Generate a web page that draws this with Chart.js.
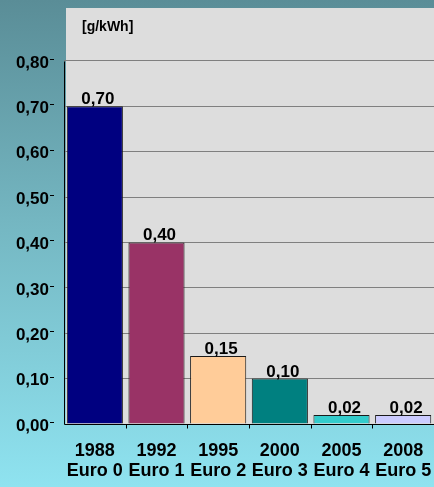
<!DOCTYPE html>
<html>
<head>
<meta charset="utf-8">
<script src="https://cdn.jsdelivr.net/npm/chart.js@4.4.1/dist/chart.umd.min.js"></script>
<style>
  html, body { margin: 0; padding: 0; }
  body {
    width: 434px; height: 487px; overflow: hidden;
    background: linear-gradient(to bottom, #5a8d97 0%, #74b6c1 45%, #8fe3f0 100%);
  }
  #wrap { width: 434px; height: 487px; }
</style>
</head>
<body>
<div id="wrap"><canvas id="c" width="434" height="487"></canvas></div>
<script>
// Particulate emission limits for heavy-duty diesel engines
const years = ['1988', '1992', '1995', '2000', '2005', '2008'];
const stages = ['Euro 0', 'Euro 1', 'Euro 2', 'Euro 3', 'Euro 4', 'Euro 5'];
const pmValues = [0.70, 0.40, 0.15, 0.10, 0.02, 0.02];
const yTickValues = [0, 0.1, 0.2, 0.3, 0.4, 0.5, 0.6, 0.7, 0.8];
const unitLabel = '[g/kWh]';

const fmt = v => v.toFixed(2).replace('.', ',');
const FONT = '"Liberation Sans", Arial, sans-serif';

const plotFrame = {
  id: 'plotFrame',
  beforeDraw(chart) {
    const { ctx, chartArea: a } = chart;
    ctx.save();
    ctx.fillStyle = '#dddddd';
    ctx.fillRect(a.left + 2, a.top, a.right - a.left - 2, a.bottom - a.top);
    ctx.restore();
  },
  afterDatasetsDraw(chart) {
    const { ctx, chartArea: a, scales } = chart;
    const y = scales.y, x = scales.x;
    const yTop = Math.round(y.getPixelForValue(0.8)) + 0.5;
    const yZero = Math.round(y.getPixelForValue(0)) + 0.5;
    ctx.save();
    ctx.strokeStyle = '#000';
    ctx.lineWidth = 1;
    // axes
    ctx.beginPath();
    ctx.moveTo(a.left + 0.5, yTop);
    ctx.lineTo(a.left + 0.5, yZero);
    ctx.lineTo(a.right, yZero);
    ctx.stroke();
    // small marks beside the value labels
    yTickValues.forEach(v => {
      const py = Math.round(y.getPixelForValue(v)) - 1.5;
      ctx.beginPath();
      ctx.moveTo(50, py);
      ctx.lineTo(54, py);
      ctx.stroke();
    });
    // category separators below the axis
    const n = x.ticks.length;
    const step = (a.right - a.left) / n;
    for (let i = 1; i < n; i++) {
      const px = Math.round(a.left + i * step) + 0.5;
      ctx.beginPath();
      ctx.moveTo(px, yZero);
      ctx.lineTo(px, yZero + 4);
      ctx.stroke();
    }
    // value labels above bars
    ctx.fillStyle = '#000';
    ctx.font = 'bold 17px ' + FONT;
    ctx.textAlign = 'center';
    ctx.textBaseline = 'alphabetic';
    const meta = chart.getDatasetMeta(0);
    meta.data.forEach((bar, i) => {
      ctx.fillText(fmt(pmValues[i]), bar.x + 3, bar.y - 2);
    });
    // unit
    ctx.font = 'bold 14px ' + FONT;
    ctx.textAlign = 'left';
    ctx.textBaseline = 'middle';
    ctx.fillText(unitLabel, 82, 27);
    ctx.restore();
  }
};

new Chart(document.getElementById('c'), {
  type: 'bar',
  data: {
    labels: years.map((y, i) => [y, stages[i]]),
    datasets: [{
      data: pmValues,
      backgroundColor: ['#000080', '#993366', '#ffcc99', '#008080', '#33cccc', '#ccccff'],
      borderColor: '#1a1a1a',
      borderWidth: 1,
      barPercentage: 0.91,
      categoryPercentage: 1.0
    }]
  },
  options: {
    responsive: false,
    animation: false,
    layout: { padding: { top: 8, right: 0, bottom: 0, left: 0 } },
    plugins: { legend: { display: false }, tooltip: { enabled: false } },
    scales: {
      x: {
        grid: { display: false },
        border: { display: false },
        ticks: {
          color: '#000',
          font: { family: FONT, size: 18, weight: 'bold', lineHeight: 1.1 },
          padding: 9,
          maxRotation: 0,
          autoSkip: false
        },
        afterFit(s) {
          s.height = 63;
          s.paddingLeft = 0; s.paddingRight = 0; s.paddingTop = 0; s.paddingBottom = 0;
        }
      },
      y: {
        min: 0,
        max: 0.9168,
        afterBuildTicks(s) { s.ticks = yTickValues.map(v => ({ value: v })); },
        grid: {
          drawTicks: false,
          color: ctx => (ctx.tick && ctx.tick.value > 0 ? '#7f7f7f' : 'rgba(0,0,0,0)'),
          lineWidth: 1
        },
        border: { display: false },
        ticks: {
          color: '#000',
          font: { family: FONT, size: 17, weight: 'bold' },
          padding: 15,
          labelOffset: 2,
          callback: v => fmt(v)
        },
        afterFit(s) {
          s.width = 64;
          s.paddingLeft = 0; s.paddingRight = 0; s.paddingTop = 0; s.paddingBottom = 0;
        }
      }
    }
  },
  plugins: [plotFrame]
});
</script>
</body>
</html>
